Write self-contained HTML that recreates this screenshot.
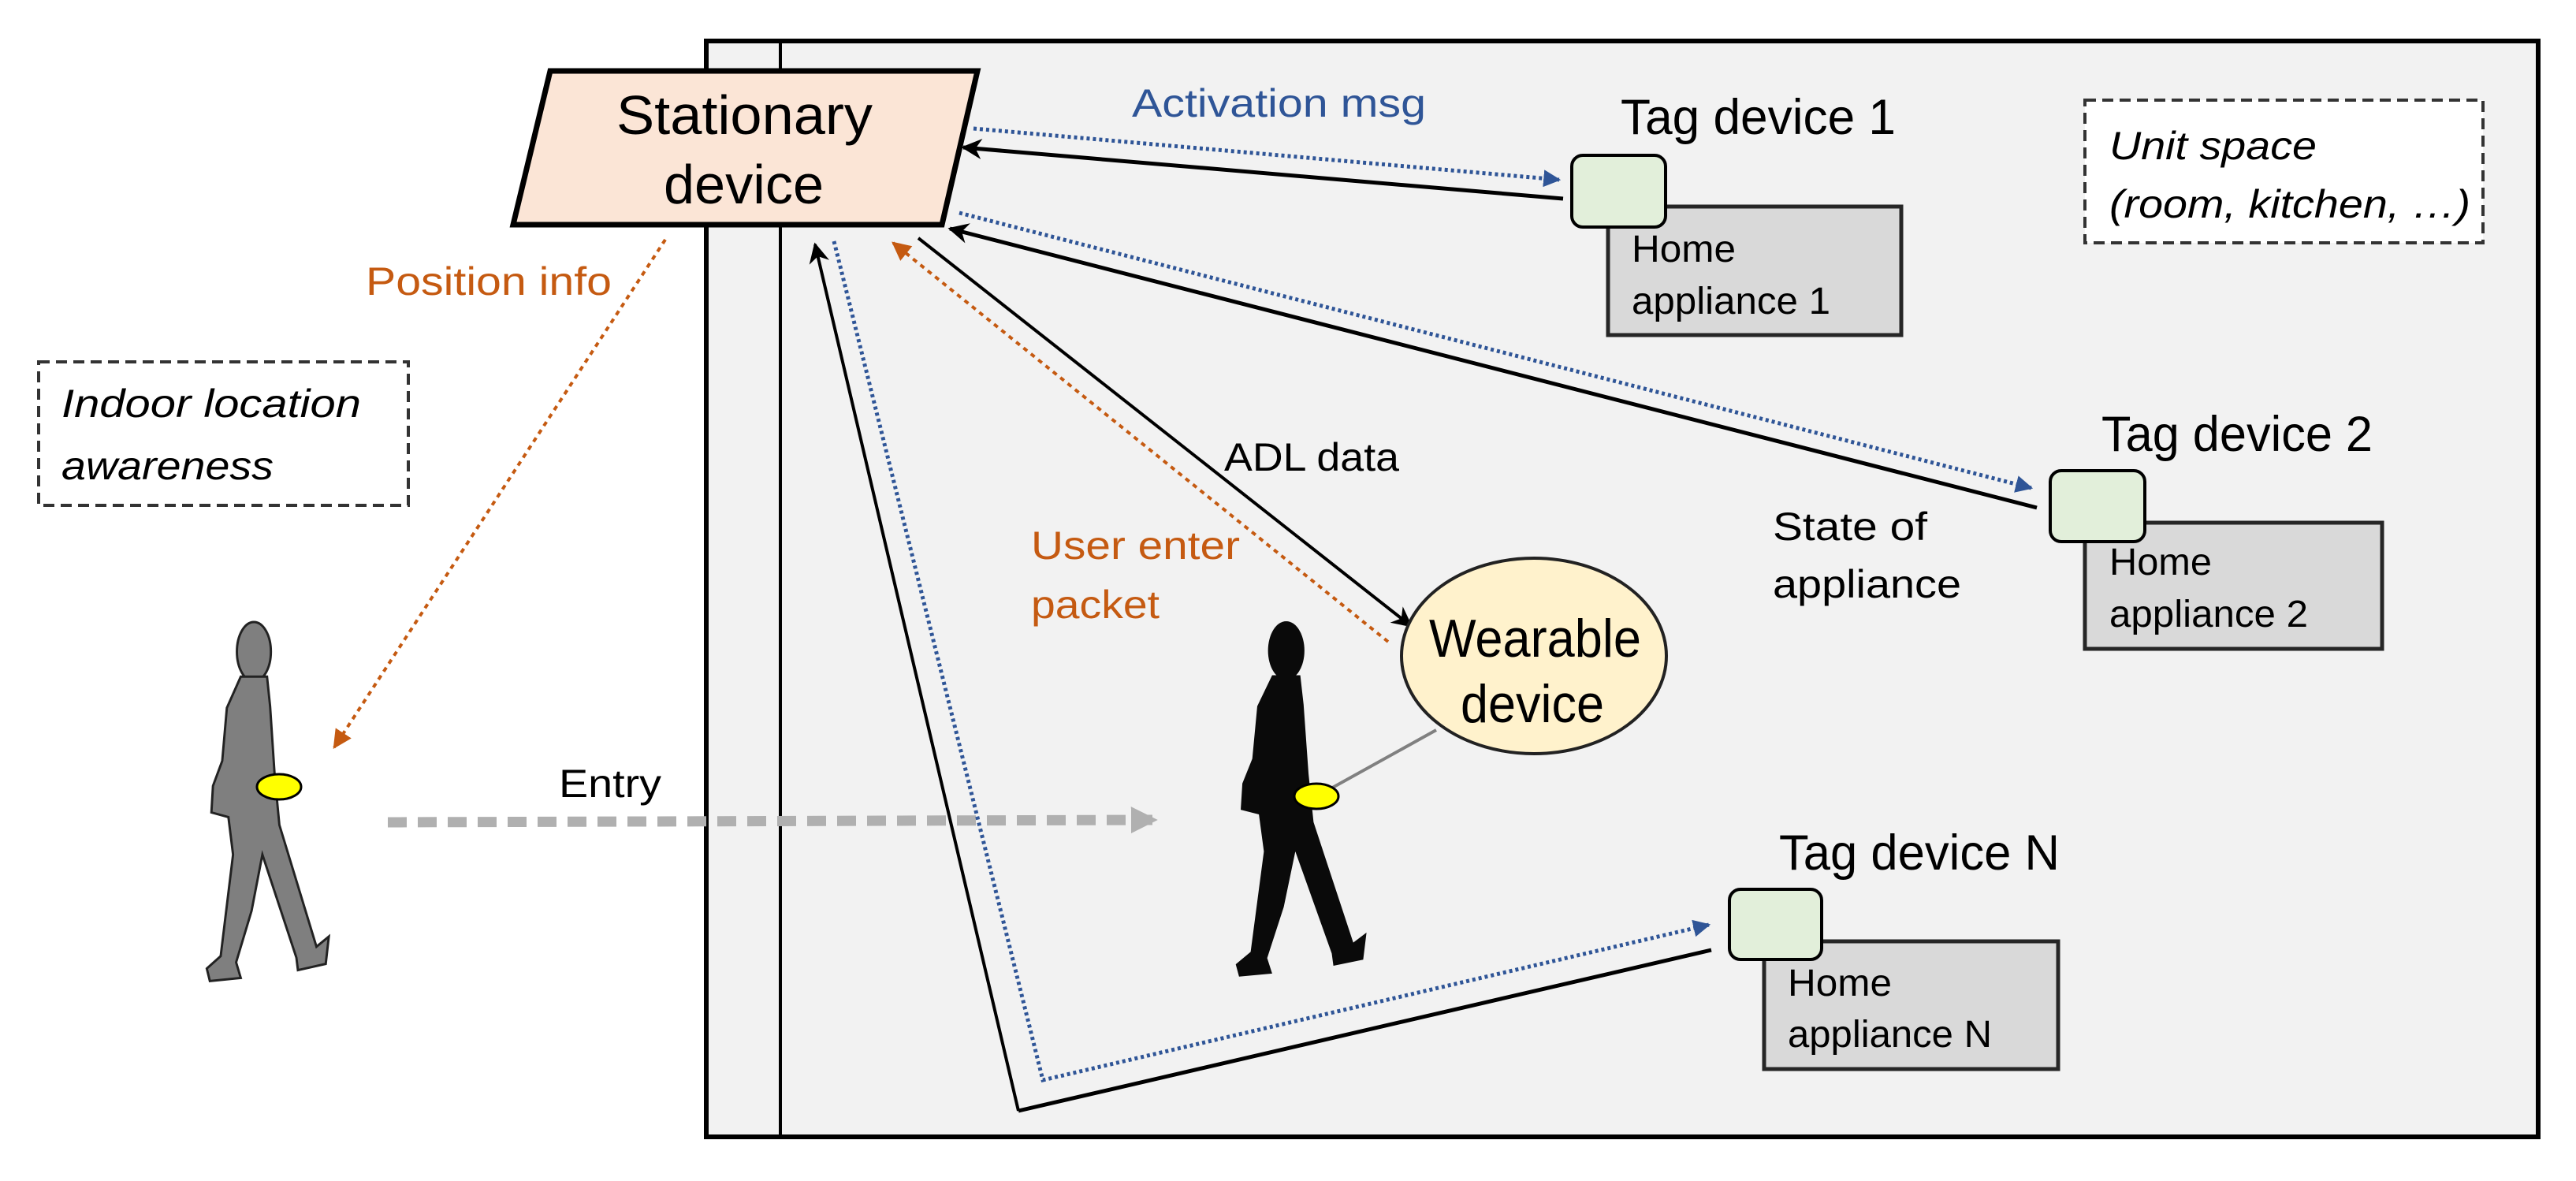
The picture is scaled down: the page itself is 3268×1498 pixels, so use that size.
<!DOCTYPE html>
<html><head><meta charset="utf-8"><style>html,body{margin:0;padding:0;background:#fff}svg{display:block}text{font-family:"Liberation Sans",sans-serif}</style></head>
<body>
<svg width="3268" height="1498" viewBox="0 0 3268 1498" xmlns="http://www.w3.org/2000/svg">
<defs>
<marker id="abk" viewBox="0 0 10 10" refX="9" refY="5" markerWidth="26" markerHeight="26" orient="auto" markerUnits="userSpaceOnUse"><path d="M0,0 L10,5 L0,10 L3,5 Z" fill="#000"/></marker>
<marker id="abl" viewBox="0 0 10 10" refX="9" refY="5" markerWidth="22" markerHeight="22" orient="auto" markerUnits="userSpaceOnUse"><path d="M0,0 L10,5 L0,10 Z" fill="#2f5597"/></marker>
<marker id="aor" viewBox="0 0 10 10" refX="9" refY="5" markerWidth="24" markerHeight="24" orient="auto" markerUnits="userSpaceOnUse"><path d="M0,0 L10,5 L0,10 Z" fill="#c55a11"/></marker>
<marker id="agr" viewBox="0 0 10 10" refX="8" refY="5" markerWidth="34" markerHeight="34" orient="auto" markerUnits="userSpaceOnUse"><path d="M0,0 L10,5 L0,10 Z" fill="#b0b0b0"/></marker>
<g id="person"><ellipse cx="95" cy="40" rx="22" ry="38"/><path d="M78,72 L112,72 L116,110 L122,200 L128,262 L152,340 L176,418 L192,405 L188,440 L152,448 L150,432 L106,300 L92,372 L72,438 L78,458 L38,462 L34,446 L52,430 L68,300 L62,252 L40,246 L42,212 L54,180 L60,112 Z"/></g>
</defs>

<rect x="896" y="52" width="2324" height="1390" fill="#f2f2f2" stroke="#000" stroke-width="6"/>
<line x1="990" y1="52" x2="990" y2="1442" stroke="#000" stroke-width="4"/>

<g fill="#7f7f7f" stroke="#222" stroke-width="3" transform="translate(229,787) scale(0.98,0.99)"><use href="#person"/></g>
<ellipse cx="354" cy="998" rx="28" ry="16" fill="#ffff00" stroke="#000" stroke-width="3"/>

<g fill="#0a0a0a" transform="translate(1532,786) scale(1.05,0.98)"><use href="#person"/></g>
<line x1="1822" y1="926" x2="1676" y2="1007" stroke="#808080" stroke-width="4"/>
<ellipse cx="1670" cy="1010" rx="28" ry="16" fill="#ffff00" stroke="#000" stroke-width="3"/>

<line x1="492" y1="1043" x2="1462" y2="1040" stroke="#b0b0b0" stroke-width="13" stroke-dasharray="24 14" marker-end="url(#agr)"/>
<text x="709" y="1011" font-size="50" textLength="130" lengthAdjust="spacingAndGlyphs">Entry</text>

<line x1="844" y1="304" x2="424" y2="948" stroke="#c55a11" stroke-width="4" stroke-dasharray="6 6" marker-end="url(#aor)"/>
<text x="464" y="374" font-size="50" fill="#c55a11" textLength="312" lengthAdjust="spacingAndGlyphs">Position info</text>

<rect x="49" y="459" width="469" height="182" fill="#fff" stroke="#333" stroke-width="4" stroke-dasharray="14 8"/>
<text x="78" y="529" font-size="50" font-style="italic" textLength="380" lengthAdjust="spacingAndGlyphs">Indoor location</text>
<text x="78" y="608" font-size="50" font-style="italic" textLength="269" lengthAdjust="spacingAndGlyphs">awareness</text>

<line x1="1235" y1="163" x2="1978" y2="228" stroke="#2f5597" stroke-width="5" stroke-dasharray="4 4" marker-end="url(#abl)"/>
<line x1="1983" y1="252" x2="1222" y2="187" stroke="#000" stroke-width="5" marker-end="url(#abk)"/>
<text x="1436" y="148" font-size="50" fill="#2f5597" textLength="373" lengthAdjust="spacingAndGlyphs">Activation msg</text>

<line x1="1217" y1="270" x2="2577" y2="619" stroke="#2f5597" stroke-width="5" stroke-dasharray="4 4" marker-end="url(#abl)"/>
<line x1="2584" y1="644" x2="1205" y2="290" stroke="#000" stroke-width="5" marker-end="url(#abk)"/>

<line x1="1165" y1="302" x2="1790" y2="794" stroke="#000" stroke-width="4" marker-end="url(#abk)"/>
<line x1="1761" y1="814" x2="1133" y2="308" stroke="#c55a11" stroke-width="4" stroke-dasharray="6 6" marker-end="url(#aor)"/>
<text x="1553" y="597" font-size="50" textLength="222" lengthAdjust="spacingAndGlyphs">ADL data</text>
<text x="1308" y="709" font-size="50" fill="#c55a11" textLength="265" lengthAdjust="spacingAndGlyphs">User enter</text>
<text x="1308" y="784" font-size="50" fill="#c55a11" textLength="163" lengthAdjust="spacingAndGlyphs">packet</text>

<line x1="1292" y1="1409" x2="2171" y2="1205" stroke="#000" stroke-width="5"/>
<line x1="1292" y1="1409" x2="1034" y2="310" stroke="#000" stroke-width="4" marker-end="url(#abk)"/>
<polyline points="1058,306 1323,1370 2168,1173" fill="none" stroke="#2f5597" stroke-width="5" stroke-dasharray="4 4" marker-end="url(#abl)"/>

<polygon points="698,90 1240,90 1195,285 651,285" fill="#fbe5d6" stroke="#000" stroke-width="7"/>
<text x="782" y="170" font-size="70" textLength="325" lengthAdjust="spacingAndGlyphs">Stationary</text>
<text x="842" y="258" font-size="70" textLength="203" lengthAdjust="spacingAndGlyphs">device</text>

<ellipse cx="1946" cy="832" rx="168" ry="124" fill="#fff2cc" stroke="#222" stroke-width="4"/>
<text x="1813" y="833" font-size="68" textLength="269" lengthAdjust="spacingAndGlyphs">Wearable</text>
<text x="1853" y="916" font-size="68" textLength="182" lengthAdjust="spacingAndGlyphs">device</text>

<text x="2056" y="170" font-size="63" textLength="349" lengthAdjust="spacingAndGlyphs">Tag device 1</text>
<rect x="2040" y="262" width="372" height="163" fill="#d9d9d9" stroke="#262626" stroke-width="5"/>
<rect x="1994" y="197" width="119" height="91" rx="14" fill="#e2efda" stroke="#000" stroke-width="4"/>
<text x="2070" y="332" font-size="48" textLength="132" lengthAdjust="spacingAndGlyphs">Home</text>
<text x="2070" y="398" font-size="48" textLength="252" lengthAdjust="spacingAndGlyphs">appliance 1</text>

<rect x="2645" y="127" width="505" height="181" fill="#fff" stroke="#333" stroke-width="4" stroke-dasharray="14 8"/>
<text x="2676" y="202" font-size="50" font-style="italic" textLength="263" lengthAdjust="spacingAndGlyphs">Unit space</text>
<text x="2676" y="276" font-size="50" font-style="italic" textLength="458" lengthAdjust="spacingAndGlyphs">(room, kitchen, …)</text>

<text x="2666" y="572" font-size="63" textLength="344" lengthAdjust="spacingAndGlyphs">Tag device 2</text>
<rect x="2645" y="663" width="377" height="160" fill="#d9d9d9" stroke="#262626" stroke-width="5"/>
<rect x="2601" y="597" width="120" height="90" rx="14" fill="#e2efda" stroke="#000" stroke-width="4"/>
<text x="2676" y="729" font-size="48" textLength="130" lengthAdjust="spacingAndGlyphs">Home</text>
<text x="2676" y="795" font-size="48" textLength="252" lengthAdjust="spacingAndGlyphs">appliance 2</text>
<text x="2249" y="685" font-size="50" textLength="196" lengthAdjust="spacingAndGlyphs">State of</text>
<text x="2249" y="758" font-size="50" textLength="239" lengthAdjust="spacingAndGlyphs">appliance</text>

<text x="2257" y="1103" font-size="63" textLength="356" lengthAdjust="spacingAndGlyphs">Tag device N</text>
<rect x="2238" y="1194" width="373" height="162" fill="#d9d9d9" stroke="#262626" stroke-width="5"/>
<rect x="2194" y="1128" width="117" height="89" rx="14" fill="#e2efda" stroke="#000" stroke-width="4"/>
<text x="2268" y="1263" font-size="48" textLength="132" lengthAdjust="spacingAndGlyphs">Home</text>
<text x="2268" y="1328" font-size="48" textLength="259" lengthAdjust="spacingAndGlyphs">appliance N</text>
</svg>
</body></html>
